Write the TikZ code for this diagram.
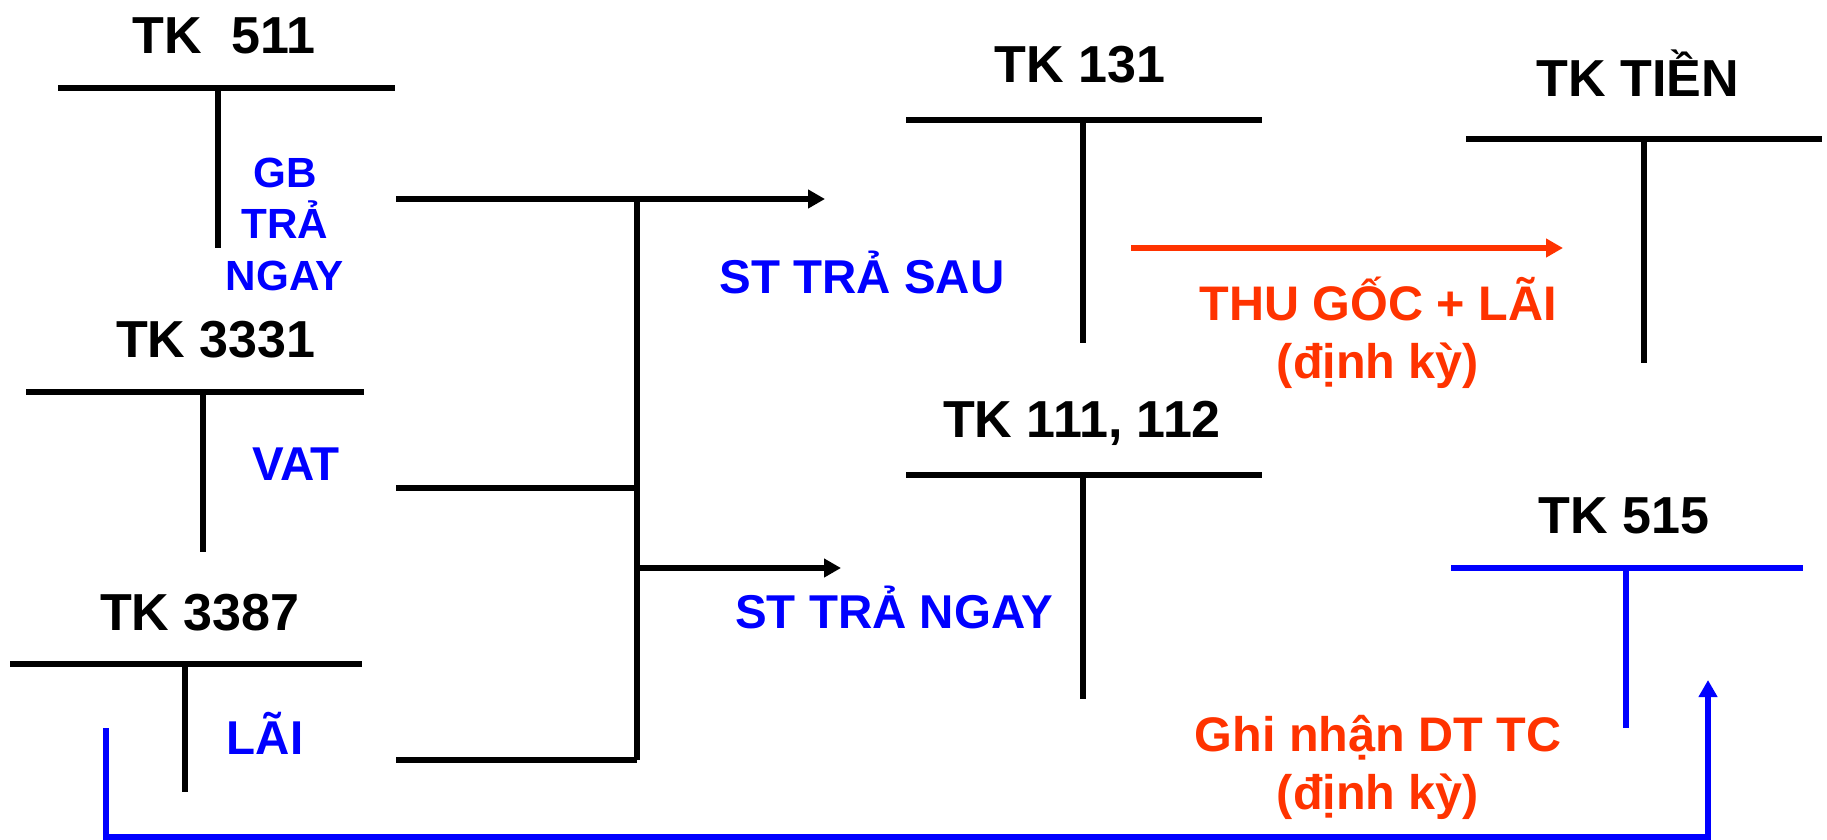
\documentclass[tikz,border=0pt]{standalone}
\usepackage{fontspec}
\setmainfont{Liberation Sans}
\usetikzlibrary{arrows.meta}
\definecolor{tkred}{RGB}{255,51,0}

\begin{document}
\begin{tikzpicture}[x=0.01cm,y=-0.01cm,
    acct/.style={font=\fontsize{14.8}{17}\selectfont\bfseries,anchor=base,inner sep=0pt},
    note/.style={text=blue,font=\fontsize{13.5}{16}\selectfont\bfseries,anchor=base,inner sep=0pt},
    rednote/.style={text=tkred,font=\fontsize{13.8}{16.4}\selectfont\bfseries,align=center,anchor=base,inner sep=0pt},
    tline/.style={line width=1.7pt},
    flow/.style={line width=1.8pt,-{Triangle[length=0.17cm,width=0.18cm]}}]
        \useasboundingbox (0,0) rectangle (1827,839);
        % account titles
        \node[acct] (t511) at (224,53) {TK~~511};
        \node[acct] (t3331) at (216,357) {TK 3331};
        \node[acct] (t3387) at (200,630) {TK 3387};
        \node[acct] (t131) at (1080,82) {TK 131};
        \node[acct] (ttien) at (1638,96) {TK TIỀN};
        \node[acct] (t111) at (1082,437) {TK 111, 112};
        \node[acct] (t515) at (1624,533) {TK 515};
        % T accounts
        \draw[tline] (58,88) -- (395,88);
        \draw[tline] (218,88) -- (218,248);
        \draw[tline] (26,392) -- (364,392);
        \draw[tline] (203,392) -- (203,552);
        \draw[tline] (10,664) -- (362,664);
        \draw[tline] (185,664) -- (185,792);
        \draw[tline] (906,120) -- (1262,120);
        \draw[tline] (1083,120) -- (1083,343);
        \draw[tline] (1466,139) -- (1822,139);
        \draw[tline] (1644,139) -- (1644,363);
        \draw[tline] (906,475) -- (1262,475);
        \draw[tline] (1083,475) -- (1083,699);
        \draw[tline,blue] (1451,568) -- (1803,568);
        \draw[tline,blue] (1626,568) -- (1626,728);
        % flows
        \coordinate (gb) at (396,199);
        \coordinate (vat) at (396,488);
        \coordinate (lai) at (396,760);
        \coordinate (jtop) at (637,199);
        \coordinate (jmid) at (637,568);
        \coordinate (jbot) at (637,760);
        \coordinate (sau) at (825,199);
        \coordinate (ngay) at (841,568);
        \draw[flow] (gb) -- (sau);
        \draw[tline] (jtop) -- (jbot);
        \draw[tline] (vat) -- (vat -| jtop);
        \draw[tline] (lai) -- (jbot);
        \draw[flow] (jmid) -- (ngay);
        \coordinate (thu) at (1131,248);
        \coordinate (tien) at (1563,248);
        \draw[flow,tkred] (thu) -- (tien);
        \coordinate (dtstart) at (106,728);
        \coordinate (dtend) at (1708,680);
        \draw[flow,blue] (dtstart) -- (106,837) -| (dtend);
        % labels (base = last line)
        \node[note,font=\fontsize{12}{14.6}\selectfont\bfseries,align=center] (lgb) at (285,290) {GB\\TRẢ\\NGAY};
        \node[note] (lvat) at (296,480) {VAT};
        \node[note] (llai) at (265,754) {LÃI};
        \node[note] (lsau) at (862,293) {ST TRẢ SAU};
        \node[note] (lngay) at (894,628) {ST TRẢ NGAY};
        \node[rednote] (lthu) at (1378,378) {THU GỐC + LÃI\\(định kỳ)};
        \node[rednote] (ldt) at (1378,809) {Ghi nhận DT TC\\(định kỳ)};
\end{tikzpicture}
\end{document}
